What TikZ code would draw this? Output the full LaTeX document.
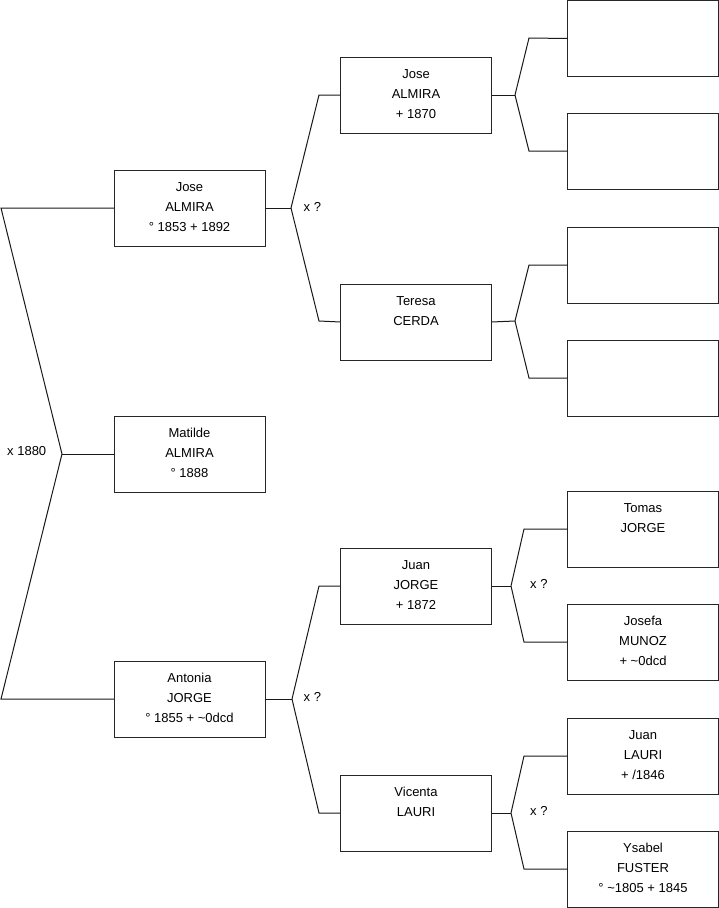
\documentclass[tikz,border=0pt]{standalone}
\usepackage{fontspec}
\setmainfont{Liberation Sans}
\newcommand\pc[1]{\parbox[b][76pt][t]{151pt}{\fontsize{13pt}{20pt}\selectfont\centering\rule{0pt}{21.5pt}#1\par}}
\begin{document}
\begin{tikzpicture}[x=1pt,y=-1pt,
  box/.style={draw=black!85, line width=1pt, inner sep=0pt, outer sep=0pt, anchor=north west},
  conn/.style={draw=black!90, line width=1pt},
  lbl/.style={anchor=west, inner sep=0pt, font=\fontsize{13pt}{15pt}\selectfont}]
\useasboundingbox (0,0) rectangle (719,908);
% generation 1
\node[box] (jose1) at (114,170) {\pc{Jose\\ALMIRA\\° 1853 + 1892}};
\node[box] (matilde) at (114,416) {\pc{Matilde\\ALMIRA\\° 1888}};
\node[box] (antonia) at (114,661) {\pc{Antonia\\JORGE\\° 1855 + \textasciitilde 0dcd}};
% generation 2
\node[box] (jose2) at (340.5,57) {\pc{Jose\\ALMIRA\\+ 1870}};
\node[box] (teresa) at (340.5,284) {\pc{Teresa\\CERDA}};
\node[box] (juan2) at (340.5,548) {\pc{Juan\\JORGE\\+ 1872}};
\node[box] (vicenta) at (340.5,775) {\pc{Vicenta\\LAURI}};
% generation 3
\node[box] (g1) at (567.5,0.5) {\pc{}};
\node[box] (g2) at (567.5,113) {\pc{}};
\node[box] (g3) at (567.5,227) {\pc{}};
\node[box] (g4) at (567.5,340) {\pc{}};
\node[box] (tomas) at (567.5,491) {\pc{Tomas\\JORGE}};
\node[box] (josefa) at (567.5,604) {\pc{Josefa\\MUNOZ\\+ \textasciitilde 0dcd}};
\node[box] (juan3) at (567.5,718) {\pc{Juan\\LAURI\\+ /1846}};
\node[box] (ysabel) at (567.5,831) {\pc{Ysabel\\FUSTER\\° \textasciitilde 1805 + 1845}};
% root fork
\coordinate (r) at (62,454);
\coordinate (rt) at (1,208);
\coordinate (rb) at (1,699);
\draw[conn] (jose1.west) -- (rt) -- (r) -- (rb) -- (antonia.west);
\draw[conn] (r) -- (matilde.west);
\node[lbl] (l0) at (7,451) {x 1880};
% jose1 fork
\coordinate (v1) at (291,208);
\draw[conn] (jose1.east) -- (v1);
\draw[conn] (v1) -- (319,95) -- (jose2.west);
\draw[conn] (v1) -- (319,321) -- (teresa.west);
\node[lbl] (l1) at (303.5,207) {x ?};
% antonia fork
\coordinate (v2) at (292,699);
\draw[conn] (antonia.east) -- (v2);
\draw[conn] (v2) -- (319,586) -- (juan2.west);
\draw[conn] (v2) -- (319,813) -- (vicenta.west);
\node[lbl] (l2) at (303.5,697) {x ?};
% jose2 fork
\coordinate (v3) at (515,95);
\draw[conn] (jose2.east) -- (v3);
\draw[conn] (v3) -- (529,38) -- (g1.west);
\draw[conn] (v3) -- (529,151) -- (g2.west);
% teresa fork
\coordinate (v4) at (515,321);
\draw[conn] (teresa.east) -- (v4);
\draw[conn] (v4) -- (529,265) -- (g3.west);
\draw[conn] (v4) -- (529,378) -- (g4.west);
% juan2 fork
\coordinate (v5) at (511,586);
\draw[conn] (juan2.east) -- (v5);
\draw[conn] (v5) -- (524,529) -- (tomas.west);
\draw[conn] (v5) -- (524,642) -- (josefa.west);
\node[lbl] (l3) at (530,584) {x ?};
% vicenta fork
\coordinate (v6) at (511,813);
\draw[conn] (vicenta.east) -- (v6);
\draw[conn] (v6) -- (524,756) -- (juan3.west);
\draw[conn] (v6) -- (524,869) -- (ysabel.west);
\node[lbl] (l4) at (530,811) {x ?};
\end{tikzpicture}
\end{document}
